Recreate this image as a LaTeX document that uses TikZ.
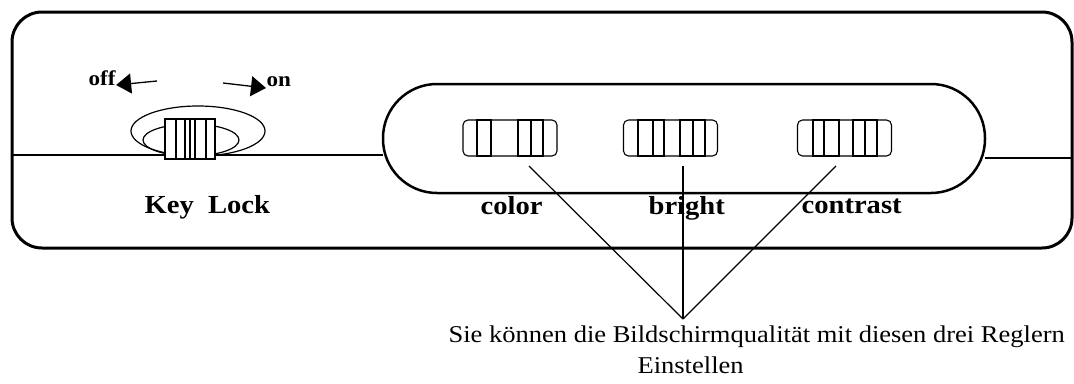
\documentclass[tikz,border=0pt]{standalone}
\usepackage{fontspec}
\setmainfont{Liberation Serif}[FakeStretch=1.1]
\usetikzlibrary{arrows.meta}
\tikzstyle{slider}=[draw,line width=1.1pt,rounded corners=5pt,minimum width=94pt,minimum height=36pt,inner sep=0pt]
\tikzstyle{lab}=[anchor=base west,inner sep=0pt,font=\fontsize{26}{30}\selectfont\bfseries]
\tikzstyle{note}=[anchor=base west,inner sep=0pt,font=\fontsize{24.1}{28}\selectfont]
\tikzstyle{dir}=[anchor=base west,inner sep=0pt,font=\fontsize{21}{25}\selectfont\bfseries]
\tikzstyle{turn}=[line width=1.3pt,-{Triangle[length=15pt,width=20pt]}]

\begin{document}
\begin{tikzpicture}[x=1pt,y=-1pt,line width=1.2pt]
\useasboundingbox (0,0) rectangle (1074,383);
% housing
\draw[line width=3pt,rounded corners=30pt] (12,12) rectangle (1072,248);
\draw (12,155) -- (383,155);
\draw (985,158) -- (1072,158);
\draw[line width=2.5pt,rounded corners=54pt] (383,84) rectangle (985,193);
% key lock
\draw (198,131) ellipse (67 and 25);
\draw (191,140) ellipse (48 and 16);
\draw[fill=white] (165,119) rectangle (215,159);
\foreach \x in {176,185,190,195,206} \draw (\x,119) -- (\x,159);
\node[dir] (off) at (88,85) {off};
\node[dir] (on) at (266,86) {on};
\coordinate (offs) at (157,81);
\coordinate (ons) at (223,83);
\draw[turn] (offs) -- (off.base east |- 0,85);
\draw[turn] (ons) -- (on.base west |- 0,88);
\node[lab] (key) at (144,213) {Key\ \ Lock};
% sliders
\node[slider] (color) at (510,138) {};
\node[slider] (bright) at (670.5,138) {};
\node[slider] (contrast) at (844.5,138) {};
\foreach \a/\b in {477/491,518/531,531/543,638/653,653/664,680/693,693/705,813/824,824/839,853/865,865/877}
  \draw (\a,120) rectangle (\b,156);
\node[lab] (colorl) at (480,214) {color};
\node[lab] (brightl) at (648,214) {bright};
\node[lab] (contrastl) at (801,213) {contrast};
% pointers
\coordinate (cs) at (529,166);
\coordinate (bs) at (683,166);
\coordinate (ks) at (836,166);
\coordinate (tip) at (683,319);
\draw (cs) -- (tip);
\draw (bs) -- (tip);
\draw (ks) -- (tip);
\node[note] (hint) at (448,342) {Sie können die Bildschirmqualität mit diesen drei Reglern};
\node[note] (hint2) at (637,373) {Einstellen};
\end{tikzpicture}
\end{document}
